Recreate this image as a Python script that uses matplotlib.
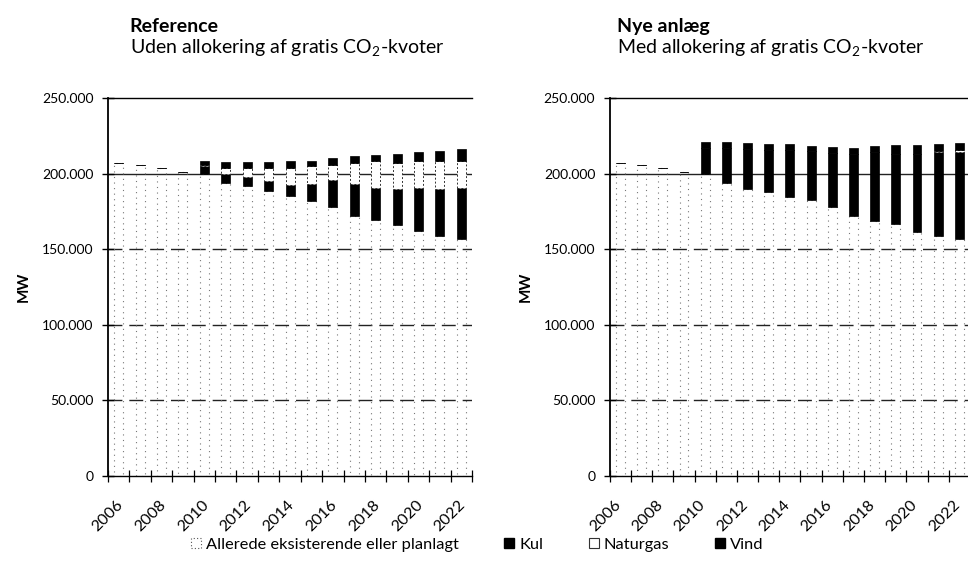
import matplotlib
matplotlib.use("Agg")
import matplotlib.pyplot as plt
from matplotlib.patches import Patch
from matplotlib.ticker import FuncFormatter
from matplotlib.transforms import ScaledTranslation
import numpy as np

plt.rcParams['font.family'] = ['Lato', 'DejaVu Sans']
plt.rcParams['mathtext.fontset'] = 'custom'
plt.rcParams['mathtext.rm'] = 'Lato'

years = list(range(2006, 2023))

# Reference scenario (MW)
ref_existing = [207000, 206000, 204000, 201000, 200000, 194000, 191500, 188500, 185000,
                182000, 178000, 172000, 169000, 166000, 162000, 159000, 157000]
ref_kul = [0, 0, 0, 0, 5000, 6000, 6000, 6500, 7500, 11000, 18000, 21000, 21500,
           23500, 28500, 30500, 33500]
ref_naturgas = [0, 0, 0, 0, 1000, 3500, 6000, 9000, 11000, 12000, 9500, 14000, 17500,
                17500, 17500, 18500, 17500]
ref_vind = [0, 0, 0, 0, 2000, 4000, 4000, 3500, 4500, 3500, 4500, 4500, 4000,
            6000, 6000, 7000, 8000]

# Nye anlaeg scenario (MW)
nye_existing = [207000, 206000, 204000, 201000, 200000, 194000, 189600, 188000, 184600,
                182600, 177600, 171700, 168500, 166700, 161300, 158700, 157000]
nye_kul = [0, 0, 0, 0, 17000, 22700, 26400, 27800, 31000, 32400, 36000, 41500, 45800,
           46200, 51600, 55400, 57500]
nye_naturgas = [0, 0, 0, 0, 0, 0, 0, 0, 0, 0, 0, 0, 0, 0, 0, 1000, 1000]
nye_vind = [0, 0, 0, 0, 3700, 4000, 4000, 3500, 4000, 3500, 4200, 4000, 4000,
            6000, 6000, 4500, 4500]

yticks = [0, 50000, 100000, 150000, 200000, 250000]
label_years = [2006, 2008, 2010, 2012, 2014, 2016, 2018, 2020, 2022]

fig = plt.figure(figsize=(9.68, 5.78), dpi=100)

def fmt(v, pos):
    return f"{int(v):,}".replace(",", ".")

def draw(ax, existing, kul, ng, vind, title, subtitle, tx, xoff):
    x = np.arange(len(years))
    w = 0.42
    for yv in yticks[1:5]:
        ls = '-' if yv == 200000 else (0, (10, 5))
        ax.axhline(yv, color='#222222', lw=1.0, ls=ls, zorder=1)
    ex = np.array(existing, float)
    k = np.array(kul, float)
    n = np.array(ng, float)
    v = np.array(vind, float)
    ax.bar(x, ex, w, facecolor='none', edgecolor='#777777', lw=0.8,
           linestyle=(0, (1, 4)), zorder=2)
    ax.bar(x, k, w, bottom=ex, color='black', edgecolor='black', lw=0.5, zorder=3)
    ax.bar(x, n, w, bottom=ex + k, facecolor='white', edgecolor='#333333', lw=0.7,
           linestyle=(0, (2, 2)), zorder=3)
    ax.bar(x, v, w, bottom=ex + k + n, color='black', edgecolor='black', lw=0.5, zorder=3)
    ax.set_xlim(-0.5, len(years) - 0.5)
    ax.set_ylim(0, 250000)
    ax.set_yticks(yticks)
    ax.yaxis.set_major_formatter(FuncFormatter(fmt))
    ax.tick_params(axis='y', direction='inout', length=9, width=1.0, labelsize=10, pad=6)
    ax.set_xticks(np.arange(len(years) + 1) - 0.5)
    ax.set_xticklabels([])
    ax.tick_params(axis='x', which='major', direction='inout', length=8, width=0.9)
    ax.set_xticks([years.index(yy) for yy in label_years], minor=True)
    ax.set_xticklabels([str(yy) for yy in label_years], minor=True, rotation=45,
                       ha='right', fontsize=11.5)
    ax.tick_params(axis='x', which='minor', length=0, pad=16)
    off = ScaledTranslation(xoff, 0, fig.dpi_scale_trans)
    for lab in ax.get_xticklabels(minor=True):
        lab.set_transform(lab.get_transform() + off)
    ax.spines['right'].set_visible(False)
    ax.spines['top'].set_linewidth(1.0)
    ax.spines['left'].set_linewidth(1.3)
    ax.spines['bottom'].set_linewidth(1.0)
    ax.set_ylabel('MW', fontweight='bold', fontsize=11, labelpad=8)
    ax.text(tx, 1.175, title, transform=ax.transAxes, fontweight='bold', fontsize=14,
            ha='left', va='baseline')
    ax.text(tx, 1.118, subtitle, transform=ax.transAxes, fontsize=14,
            ha='left', va='baseline')

ax1 = fig.add_axes([0.1116, 0.1765, 0.376, 0.654])
ax2 = fig.add_axes([0.630, 0.1765, 0.372, 0.654])

draw(ax1, ref_existing, ref_kul, ref_naturgas, ref_vind, 'Reference',
     r'Uden allokering af gratis CO$_\mathregular{2}$-kvoter', 0.06, 0.07)
draw(ax2, nye_existing, nye_kul, nye_naturgas, nye_vind, 'Nye anlæg',
     r'Med allokering af gratis CO$_\mathregular{2}$-kvoter', 0.02, 0.03)

handles = [
    Patch(facecolor='white', edgecolor='#555555', lw=0.8, linestyle=(0, (1, 2))),
    Patch(facecolor='black', edgecolor='black'),
    Patch(facecolor='white', edgecolor='#333333', lw=0.8),
    Patch(facecolor='black', edgecolor='black'),
]
labels = ['Allerede eksisterende eller planlagt', 'Kul', 'Naturgas', 'Vind']
fig.legend(handles, labels, loc='center', bbox_to_anchor=(0.493, 0.057), ncol=4,
           frameon=False, fontsize=11.8, handlelength=0.6, handleheight=0.6,
           handletextpad=0.3, columnspacing=2.8)

fig.savefig('out.png', dpi=100)
